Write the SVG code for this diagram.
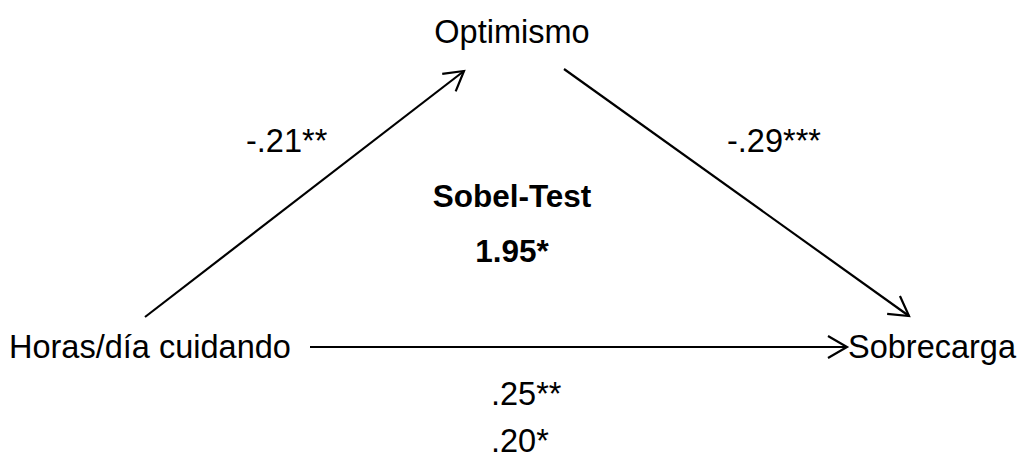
<svg xmlns="http://www.w3.org/2000/svg" width="1022" height="464" viewBox="0 0 1022 464">
<style>
text{font-family:"Liberation Sans",Arial,sans-serif;font-size:32.5px;fill:#000}
.b{font-weight:bold;font-size:31.5px}
.c{fill:none;stroke:#000;stroke-width:2.2}
</style>
<defs>
<marker id="ah" markerUnits="userSpaceOnUse" markerWidth="24" markerHeight="26" refX="20" refY="12" orient="auto" viewBox="0 0 24 26">
<path d="M1,1 L20,12 L1,23" fill="none" stroke="#000" stroke-width="2.2"/>
</marker>
</defs>
<rect width="1022" height="464" fill="#fff"/>
<g id="connectors">
<line class="c" x1="145" y1="317" x2="464" y2="71" marker-end="url(#ah)"/>
<line class="c" x1="564" y1="69" x2="909" y2="316" marker-end="url(#ah)"/>
<line class="c" x1="310" y1="347" x2="847" y2="347" marker-end="url(#ah)"/>
</g>
<g id="optimismo"><text x="512" y="43" text-anchor="middle">Optimismo</text></g>
<g id="horas"><text x="9" y="358">Horas/día cuidando</text></g>
<g id="sobrecarga"><text x="848" y="358">Sobrecarga</text></g>
<g id="labels">
<text x="246" y="152">-.21**</text>
<text x="727" y="152">-.29***</text>
<text class="b" x="512" y="207" text-anchor="middle">Sobel-Test</text>
<text class="b" x="512" y="262" text-anchor="middle">1.95*</text>
<text x="491" y="405">.25**</text>
<text x="491" y="452">.20*</text>
</g>
</svg>
